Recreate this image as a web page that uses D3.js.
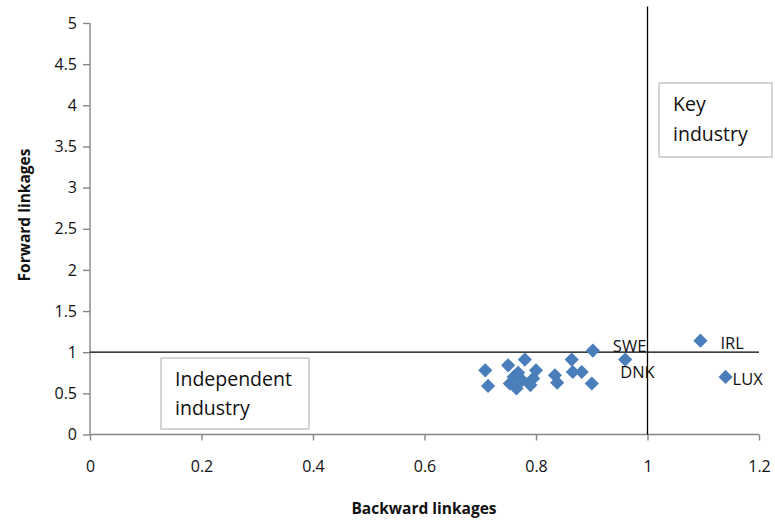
<!DOCTYPE html>
<html><head><meta charset="utf-8">
<script src="https://cdn.jsdelivr.net/npm/d3@7"></script>
<style>body{margin:0;background:#fff}svg{display:block}text{font-family:"Open Sans","Liberation Sans",sans-serif}</style>
</head><body>
<svg id="c" width="775" height="523"></svg>
<script>
const backward = [0.709,0.714,0.750,0.753,0.760,0.765,0.768,0.775,0.780,0.790,0.800,0.795,0.834,0.838,0.864,0.866,0.882,0.900,0.902,0.960,1.095,1.140];
const forward  = [0.780,0.590,0.840,0.620,0.700,0.560,0.750,0.660,0.910,0.600,0.780,0.680,0.720,0.630,0.910,0.760,0.760,0.620,1.020,0.910,1.140,0.700];
const pointLabels = ["","","","","","","","","","","","","","","","","","","SWE","DNK","IRL","LUX"];
const xTicks = [0,0.2,0.4,0.6,0.8,1,1.2];
const yTicks = [0,0.5,1,1.5,2,2.5,3,3.5,4,4.5,5];
const hLine = [[0,1],[1.2,1]];
const vLine = [[1,0],[1,5.2]];
const quadrantLabels = [["Key","industry"],["Independent","industry"]];

const svg = d3.select("#c");
const x = d3.scaleLinear().domain([0,1.2]).range([90,759]);
const y = d3.scaleLinear().domain([0,5]).range([434.5,23]);

const axisColor = "#868686";
const gx = svg.append("g").attr("transform","translate(0,434.5)")
  .call(d3.axisBottom(x).tickValues(xTicks).tickFormat(d3.format("")).tickSize(6).tickPadding(20));
const gy = svg.append("g").attr("transform","translate(90,0)")
  .call(d3.axisLeft(y).tickValues(yTicks).tickFormat(d3.format("")).tickSize(7).tickPadding(6));
[gx,gy].forEach(g=>{
  g.selectAll("path").attr("stroke",axisColor).attr("stroke-width",1.4);
  g.selectAll("line").attr("stroke",axisColor).attr("stroke-width",1.4);
  g.selectAll("text").attr("fill","#111").style("font-size","16px");
});
gy.select(".domain").attr("d","M0,"+y(5)+"V"+y(0));
gx.select(".domain").attr("d","M"+x(0)+",0H"+x(1.2));

const line = d3.line().x(d=>x(d[0])).y(d=>y(d[1]));
svg.append("path").attr("d",line(hLine)).attr("stroke","#000").attr("stroke-width",1.3).attr("fill","none");
svg.append("path").attr("d",line(vLine)).attr("stroke","#000").attr("stroke-width",1.3).attr("fill","none");

// quadrant boxes
const boxes = [
  {lines:quadrantLabels[0], bx:659, by:83, bw:113, bh:74, tx:673, ty:[111,141]},
  {lines:quadrantLabels[1], bx:161, by:358, bw:148, bh:71, tx:175, ty:[386,415]}
];
boxes.forEach(b=>{
  svg.append("rect").attr("x",b.bx).attr("y",b.by).attr("width",b.bw).attr("height",b.bh)
    .attr("fill","#fff").attr("stroke","#bfbfbf").attr("stroke-width",1.3);
  b.lines.forEach((t,i)=>svg.append("text").attr("x",b.tx).attr("y",b.ty[i]).text(t)
    .style("font-size","19.5px").attr("fill","#111"));
});

const pts = backward.map((v,i)=>({x:v,y:forward[i],label:pointLabels[i]}));
svg.append("g").selectAll("path").data(pts).join("path")
  .attr("transform",d=>`translate(${x(d.x)},${y(d.y)}) rotate(45)`)
  .attr("d",d3.symbol().type(d3.symbolSquare).size(100))
  .attr("fill","#4a7ebb");

const off = {SWE:[20,1],DNK:[-5,18],IRL:[20,8],LUX:[7,8]};
svg.append("g").selectAll("text").data(pts.filter(d=>d.label)).join("text")
  .attr("x",d=>x(d.x)+off[d.label][0]).attr("y",d=>y(d.y)+off[d.label][1])
  .text(d=>d.label).style("font-size","16.5px").attr("fill","#111");

svg.append("text").attr("x",424).attr("y",514).attr("text-anchor","middle")
  .text("Backward linkages").style("font-size","15.5px").style("font-weight","bold").attr("fill","#111");
svg.append("text").attr("transform","translate(30,215) rotate(-90)").attr("text-anchor","middle")
  .text("Forward linkages").style("font-size","15.5px").style("font-weight","bold").attr("fill","#111");
</script>
</body></html>
